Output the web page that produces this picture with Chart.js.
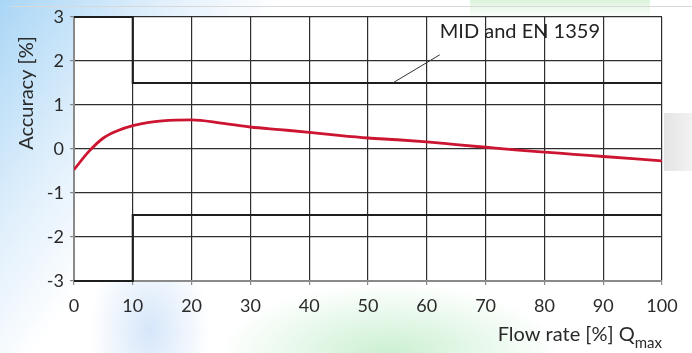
<!DOCTYPE html>
<html>
<head>
<meta charset="utf-8">
<script src="https://cdn.jsdelivr.net/npm/chart.js@4/dist/chart.umd.min.js"></script>
<style>
  html, body { margin: 0; padding: 0; }
  body {
    width: 692px; height: 353px; overflow: hidden; position: relative;
    background:
      linear-gradient(to bottom, rgba(190,235,190,0.55), rgba(255,255,255,0) 18px) 470px 0/180px 20px no-repeat,
      radial-gradient(ellipse 170px 70px at 390px 353px, rgba(185,235,195,0.75), rgba(255,255,255,0)),
      radial-gradient(ellipse 60px 90px at 150px 330px, rgba(180,210,245,0.55), rgba(255,255,255,0)),
      linear-gradient(125deg, rgba(165,212,245,0.95) 0%, rgba(210,232,250,0.65) 18%, rgba(255,255,255,0) 30%),
      linear-gradient(to right, #ffffff, #ffffff);
  }
  #rbox { position: absolute; left: 664px; top: 113px; width: 28px; height: 58px; background: linear-gradient(to right,#e4e4e4,#f2f2f2); }
  #topline { position: absolute; left: 10px; top: 6px; width: 682px; height: 1px; background: #d8d8d8; }
  canvas { position: absolute; left: 0; top: 0; }
</style>
</head>
<body>
<div id="topline"></div>
<div id="rbox"></div>
<canvas id="c" width="692" height="353"></canvas>
<script>
// ---- data ----
const flowRate = [0, 2.5, 5, 7.5, 10, 12.5, 15, 20, 25, 30, 35, 40, 45, 50, 55, 60, 65, 70, 75, 80, 85, 90, 95, 100];
const accuracy = [-0.47, -0.06, 0.25, 0.42, 0.53, 0.60, 0.64, 0.66, 0.59, 0.50, 0.44, 0.38, 0.31, 0.25, 0.21, 0.16, 0.10, 0.04, -0.02, -0.07, -0.12, -0.17, -0.22, -0.27];
const limitX = [0, 10, 10, 100];
const upperLimit = [3, 3, 1.5, 1.5];
const lowerLimit = [-3, -3, -1.5, -1.5];
const xTicks = [0, 10, 20, 30, 40, 50, 60, 70, 80, 90, 100];
const yTicks = [-3, -2, -1, 0, 1, 2, 3];
const annotationText = 'MID and EN 1359';
const yTitle = 'Accuracy [%]';
const xTitleMain = 'Flow rate [%] Q';
const xTitleSub = 'max';

const FONT = 'Lato, "Noto Sans", sans-serif';
const TXT = '#2a2a2a';

const pts = (xs, ys) => xs.map((x, i) => ({ x: x, y: ys[i] }));

const whiteArea = {
  id: 'whiteArea',
  beforeDraw(chart) {
    const { ctx, chartArea: a } = chart;
    ctx.save();
    ctx.fillStyle = '#ffffff';
    ctx.fillRect(a.left, a.top, a.right - a.left, a.bottom - a.top);
    ctx.restore();
  }
};

const texts = {
  id: 'texts',
  afterDraw(chart) {
    const { ctx, scales: { x, y }, chartArea: a } = chart;
    ctx.save();
    ctx.fillStyle = TXT;
    ctx.font = '20px ' + FONT;
    ctx.translate(27, 93);
    ctx.rotate(-Math.PI / 2);
    ctx.textAlign = 'center';
    ctx.textBaseline = 'middle';
    ctx.fillText(yTitle, 0, 0);
    ctx.restore();

    ctx.save();
    ctx.fillStyle = TXT;
    ctx.font = '15px ' + FONT;
    const subW = ctx.measureText(xTitleSub).width;
    ctx.textBaseline = 'alphabetic';
    ctx.textAlign = 'left';
    ctx.fillText(xTitleSub, a.right - subW, 348);
    ctx.font = '20px ' + FONT;
    const mainW = ctx.measureText(xTitleMain).width;
    ctx.fillText(xTitleMain, a.right - subW - mainW, 341);
    ctx.restore();

    ctx.save();
    ctx.strokeStyle = '#333';
    ctx.lineWidth = 1;
    ctx.beginPath();
    ctx.moveTo(x.getPixelForValue(62.2), y.getPixelForValue(2.14));
    ctx.lineTo(x.getPixelForValue(54.2), y.getPixelForValue(1.5));
    ctx.stroke();
    ctx.fillStyle = '#222';
    ctx.font = '20px ' + FONT;
    ctx.textAlign = 'left';
    ctx.textBaseline = 'middle';
    ctx.fillText(annotationText, x.getPixelForValue(62.2), y.getPixelForValue(2.66));
    ctx.restore();
  }
};

new Chart(document.getElementById('c'), {
  type: 'line',
  data: {
    datasets: [
      { data: pts(limitX, upperLimit), borderColor: '#1e1e1e', borderWidth: 2.2, pointRadius: 0, tension: 0, order: 2, clip: false },
      { data: pts(limitX, lowerLimit), borderColor: '#1e1e1e', borderWidth: 2.2, pointRadius: 0, tension: 0, order: 2, clip: false },
      { data: pts(flowRate, accuracy), borderColor: '#cc1530', borderWidth: 2.8, pointRadius: 0, tension: 0.4, cubicInterpolationMode: 'monotone', order: 1 }
    ]
  },
  options: {
    responsive: false,
    animation: false,
    layout: { padding: { top: 17, right: 30, left: 0, bottom: 0 } },
    plugins: { legend: { display: false }, tooltip: { enabled: false } },
    scales: {
      x: {
        type: 'linear', min: 0, max: 100,
        afterFit(s) { s.height = 72; },
        afterBuildTicks(s) { s.ticks = xTicks.map(v => ({ value: v })); },
        grid: { color: '#2e2e2e', lineWidth: 1.2, tickLength: 4, tickColor: '#888' },
        border: { color: '#8a8a8a', width: 2 },
        ticks: { color: TXT, padding: 10, font: { family: FONT, size: 18 }, maxRotation: 0 }
      },
      y: {
        min: -3, max: 3,
        afterFit(s) { s.width = 74; },
        afterBuildTicks(s) { s.ticks = yTicks.map(v => ({ value: v })); },
        grid: { color: '#2e2e2e', lineWidth: 1.2, tickLength: 4, tickColor: '#888' },
        border: { color: '#8a8a8a', width: 2 },
        ticks: { color: TXT, padding: 6, font: { family: FONT, size: 18 } }
      }
    }
  },
  plugins: [whiteArea, texts]
});
</script>
</body>
</html>
